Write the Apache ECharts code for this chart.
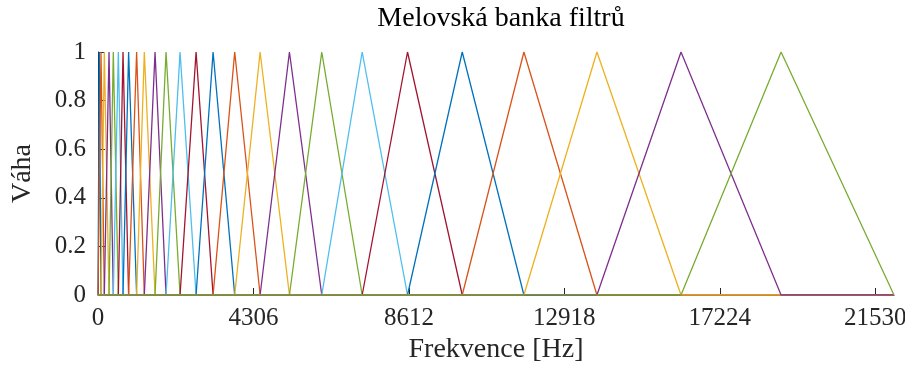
<!DOCTYPE html>
<html>
<head>
<meta charset="utf-8">
<script src="https://cdn.jsdelivr.net/npm/echarts@6/dist/echarts.min.js"></script>
<style>
html,body{margin:0;padding:0;background:#fff;}
#chart{width:905px;height:374px;}
</style>
</head>
<body>
<div id="chart"></div>
<script>
// Filter centre frequencies (Hz)
const filterPeaks = [36, 83, 175, 305, 424, 563, 693, 848, 1070, 1283, 1580, 1885, 2273, 2717, 3188, 3787, 4491, 5303, 6198, 7318, 8574, 10090, 11798, 13821, 16150, 18922];
const freqMin = 0;
const freqMax = 22050;
const xTicks = [0, 4306, 8612, 12918, 17224, 21530];
const yTicks = [0, 0.2, 0.4, 0.6, 0.8, 1];
const palette = ['#0072BD', '#D95319', '#EDB120', '#7E2F8E', '#77AC30', '#4DBEEE', '#A2142F'];

const edges = [freqMin].concat(filterPeaks, [freqMax]);
const series = filterPeaks.map((p, i) => ({
  type: 'line',
  data: [[freqMin, 0], [edges[i], 0], [edges[i + 1], 1], [edges[i + 2], 0], [freqMax, 0]],
  showSymbol: false,
  symbol: 'none',
  lineStyle: { width: 1.3, color: palette[i % palette.length] },
  itemStyle: { color: palette[i % palette.length] },
  z: 2 + i,
  animation: false
}));

const font = 'Liberation Serif, Times New Roman, serif';
const chart = echarts.init(document.getElementById('chart'), null, { renderer: 'canvas' });
chart.setOption({
  animation: false,
  backgroundColor: '#ffffff',
  title: {
    text: 'Melovská banka filtrů',
    left: 496, top: 0, textAlign: 'center',
    textStyle: { fontFamily: font, fontSize: 28, fontWeight: 'normal', color: '#000' }
  },
  grid: { left: 98, right: 11, top: 52, bottom: 79, containLabel: false, outerBoundsMode: 'none' },
  xAxis: {
    type: 'value', min: freqMin, max: freqMax, interval: 4306,
    name: 'Frekvence [Hz]', nameLocation: 'middle', nameGap: 36,
    nameTextStyle: { fontFamily: font, fontSize: 28, color: '#262626' },
    axisLine: { show: true, lineStyle: { color: '#262626', width: 1 } },
    axisTick: { show: true, inside: true, length: 7, customValues: xTicks, lineStyle: { color: '#262626', width: 1 } },
    axisLabel: { customValues: xTicks, formatter: v => String(v), fontFamily: font, fontSize: 25, color: '#262626', margin: 11 },
    splitLine: { show: false }
  },
  yAxis: {
    type: 'value', min: 0, max: 1, interval: 0.2,
    name: 'Váha', nameLocation: 'middle', nameGap: 61, nameRotate: 90,
    nameTextStyle: { fontFamily: font, fontSize: 28, color: '#262626' },
    axisLine: { show: true, lineStyle: { color: '#262626', width: 1 } },
    axisTick: { show: true, inside: true, length: 7, customValues: yTicks, lineStyle: { color: '#262626', width: 1 } },
    axisLabel: { customValues: yTicks, formatter: v => String(v), fontFamily: font, fontSize: 25, color: '#262626', margin: 12 },
    splitLine: { show: false }
  },
  series: series
});
</script>
</body>
</html>
